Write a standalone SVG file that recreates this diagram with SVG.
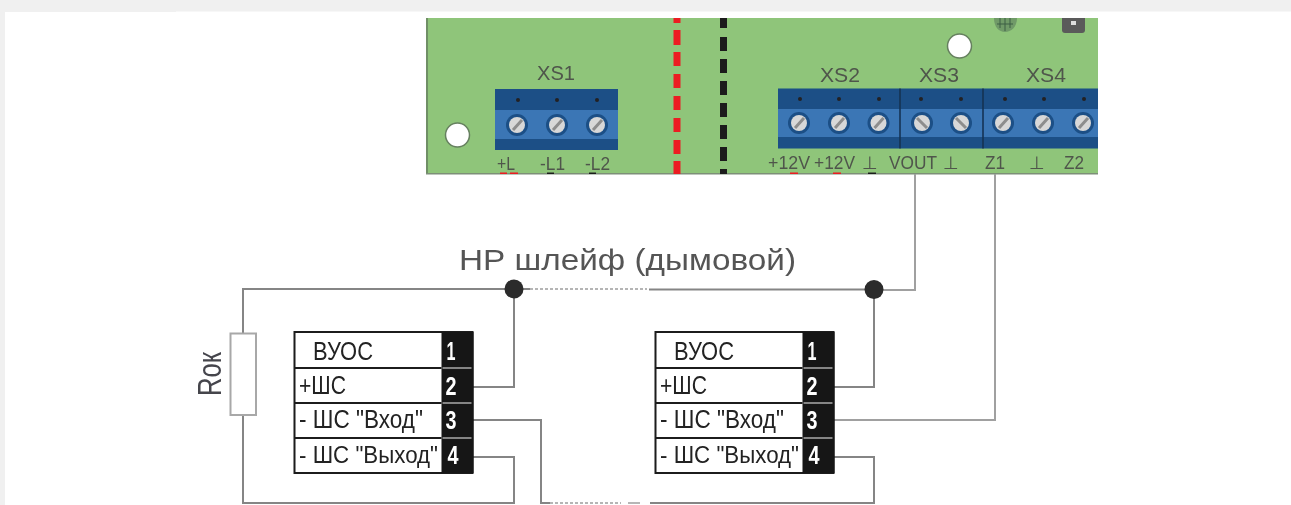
<svg xmlns="http://www.w3.org/2000/svg" xmlns:xlink="http://www.w3.org/1999/xlink" width="1291" height="505" viewBox="0 0 1291 505">
<style>
text{font-family:"Liberation Sans",Arial,sans-serif}
.pin{font-size:18px;fill:#4f554b}
.xs{font-size:21px;fill:#4f554b}
.title{font-size:30px;fill:#555}
.lbl{font-size:25px;fill:#222}
.lbl4{font-size:23px;fill:#222}
.num{font-size:25px;font-weight:bold;fill:#fff;text-anchor:middle}
.w{fill:none;stroke:#858585;stroke-width:2}
.wl{fill:none;stroke:#a0a0a0;stroke-width:2}
.dot{fill:#2b2b2b}
.dash{fill:none;stroke:#b5b5b5;stroke-width:2;stroke-dasharray:3 2}
.box{fill:#fff;stroke:#1a1a1a;stroke-width:2}
.col{fill:#141414}
.row{stroke:#1a1a1a;stroke-width:2}
.sep{stroke:#aaa;stroke-width:1.5}
.dk{fill:#1c4f86}
.lt{fill:#3a76b5}
.red{fill:#ec1c24}
.blk{fill:#1e1e1e}
.hole{fill:#fff;stroke:#66805f;stroke-width:1.5}
</style>
<defs>
<filter id="soft" x="-2%" y="-2%" width="104%" height="104%"><feGaussianBlur stdDeviation="0.75"/></filter>
<filter id="soft2" x="-5%" y="-5%" width="110%" height="110%"><feGaussianBlur stdDeviation="0.35"/></filter>
<g id="screw"><circle r="11" fill="#1c4f86"/><circle r="8" fill="#d8d8d8"/><path d="M-4 5L5-5" stroke="#8d8d8d" stroke-width="3"/></g>
<g id="screwb"><circle r="11" fill="#1c4f86"/><circle r="8" fill="#d8d8d8"/><path d="M-5-5L5 5" stroke="#8d8d8d" stroke-width="3"/></g>
<circle id="pt" r="2" fill="#222"/>
<g id="module">
<rect class="box" x="0" y="0" width="178" height="141"/>
<rect class="col" x="147" y="0" width="32" height="141"/>
<path class="row" d="M0 36H147M0 71H147M0 106H147"/>
<path class="sep" d="M148 36H177M148 71H177M148 106H177"/>
</g>
</defs>

<rect width="1291" height="505" fill="#fff"/>
<path d="M0 0H1291V11.500H176V12H5V505H0Z" fill="#f0f0f0"/>

<g id="board" filter="url(#soft)">
<rect x="426" y="18" width="672" height="156" fill="#8fc57a"/>
<rect x="426" y="18" width="2" height="156" fill="#6f8f66"/>
<rect x="426" y="173" width="672" height="1.500" fill="#7d8f78"/>
<g class="red">
<rect x="673.500" y="18" width="7" height="5"/><rect x="673.500" y="30" width="7" height="15"/><rect x="673.500" y="52" width="7" height="14"/><rect x="673.500" y="74" width="7" height="14"/><rect x="673.500" y="96" width="7" height="14"/><rect x="673.500" y="118" width="7" height="14"/><rect x="673.500" y="140" width="7" height="14"/><rect x="673.500" y="161" width="7" height="13"/>
</g>
<g class="blk">
<rect x="720" y="18" width="7" height="10"/><rect x="720" y="37" width="7" height="14"/><rect x="720" y="59" width="7" height="14"/><rect x="720" y="81" width="7" height="14"/><rect x="720" y="103" width="7" height="14"/><rect x="720" y="125" width="7" height="14"/><rect x="720" y="147" width="7" height="14"/><rect x="720" y="169" width="7" height="5"/>
</g>
<circle class="hole" cx="457.500" cy="135" r="12"/>
<circle class="hole" cx="959.500" cy="46" r="12"/>
<path d="M994 18C994 27 999 32 1005 32C1011 32 1017 27 1017 18Z" fill="#6f9a68"/>
<path d="M997 24H1013M1005 18V31M1000 18V28M1010 18V28" stroke="#3f5f45" stroke-width="1"/>
<path d="M1062 18H1085V30Q1085 33 1082 33H1065Q1062 33 1062 30Z" fill="#5a5a5a"/>
<rect x="1071" y="21" width="5" height="4" fill="#ddd"/>
</g>

<g id="XS1" filter="url(#soft)">
<rect class="dk" x="495" y="89" width="123" height="61"/>
<rect class="lt" x="495" y="110" width="123" height="29"/>
<use xlink:href="#screw" x="517" y="125"/><use xlink:href="#screw" x="557" y="125"/><use xlink:href="#screw" x="597" y="125"/>
<use xlink:href="#pt" x="518" y="100"/><use xlink:href="#pt" x="557" y="100"/><use xlink:href="#pt" x="597" y="100"/>
<text class="xs" x="537" y="80" textLength="38" lengthAdjust="spacingAndGlyphs">XS1</text>
<text class="pin" x="497" y="170" textLength="18" lengthAdjust="spacingAndGlyphs">+L</text><text class="pin" x="540" y="170" textLength="25" lengthAdjust="spacingAndGlyphs">-L1</text><text class="pin" x="585" y="170" textLength="25" lengthAdjust="spacingAndGlyphs">-L2</text>
<rect class="red" x="500" y="172.500" width="7" height="1.500"/><rect class="red" x="510" y="172.500" width="8" height="1.500"/>
<rect class="blk" x="547" y="172.500" width="7" height="1.500"/><rect class="blk" x="589" y="172.500" width="7" height="1.500"/>
</g>

<g id="XS2-XS4" filter="url(#soft)">
<rect class="dk" x="778" y="88.500" width="320" height="60"/>
<rect class="lt" x="778" y="109" width="320" height="28"/>
<path d="M900 88.500V148.500M983 88.500V148.500" stroke="#16304d" stroke-width="1.500"/>
<use xlink:href="#screw" x="799" y="123"/><use xlink:href="#screw" x="839" y="123"/><use xlink:href="#screw" x="878.500" y="123"/>
<use xlink:href="#screwb" x="922" y="123"/><use xlink:href="#screwb" x="961" y="123"/>
<use xlink:href="#screw" x="1003" y="123"/><use xlink:href="#screw" x="1043" y="123"/><use xlink:href="#screw" x="1083" y="123"/>
<use xlink:href="#pt" x="800" y="99"/><use xlink:href="#pt" x="839" y="99"/><use xlink:href="#pt" x="879" y="99"/><use xlink:href="#pt" x="921" y="99"/><use xlink:href="#pt" x="961" y="99"/><use xlink:href="#pt" x="1005" y="99"/><use xlink:href="#pt" x="1044" y="99"/><use xlink:href="#pt" x="1084" y="99"/>
<text class="xs" x="820" y="82" textLength="40" lengthAdjust="spacingAndGlyphs">XS2</text>
<text class="xs" x="919" y="82" textLength="40" lengthAdjust="spacingAndGlyphs">XS3</text>
<text class="xs" x="1026" y="82" textLength="40" lengthAdjust="spacingAndGlyphs">XS4</text>
<text class="pin" x="768" y="169" textLength="42" lengthAdjust="spacingAndGlyphs">+12V</text>
<text class="pin" x="814" y="169" textLength="41" lengthAdjust="spacingAndGlyphs">+12V</text>
<text class="pin" x="862" y="169" style="font-family:'DejaVu Sans',sans-serif">⊥</text>
<text class="pin" x="889" y="169" textLength="48" lengthAdjust="spacingAndGlyphs">VOUT</text>
<text class="pin" x="943" y="169" style="font-family:'DejaVu Sans',sans-serif">⊥</text>
<text class="pin" x="985" y="169" textLength="20" lengthAdjust="spacingAndGlyphs">Z1</text>
<text class="pin" x="1029" y="169" style="font-family:'DejaVu Sans',sans-serif">⊥</text>
<text class="pin" x="1064" y="169" textLength="20" lengthAdjust="spacingAndGlyphs">Z2</text>
<rect class="red" x="790" y="172.500" width="8" height="1.500"/><rect class="red" x="833" y="172.500" width="8" height="1.500"/><rect class="blk" x="868" y="172.500" width="8" height="1.500"/>
</g>

<g id="connectors">
<path class="wl" d="M915 174V290H874"/>
<path class="wl" d="M995 174V420H833"/>
<path class="w" d="M243 333V289H530"/>
<path class="dash" d="M530 289H647"/>
<path class="w" d="M649 289.500H874"/>
<path class="w" d="M514 289V387H473"/>
<path class="w" d="M874 289V387H833"/>
<path class="w" d="M473 420H541V503H550"/>
<path class="dash" d="M550 503H621"/>
<path class="w" d="M628 503H640" stroke-opacity=".6"/>
<path class="w" d="M650 503H874V457H833"/>
<path class="w" d="M473 457H514V503H243V415"/>
</g>

<g id="junction1"><circle class="dot" cx="514" cy="289" r="9.500"/></g>
<g id="junction2"><circle class="dot" cx="874" cy="289.500" r="9.500"/></g>

<g id="title" filter="url(#soft2)"><text class="title" x="459" y="270" textLength="337" lengthAdjust="spacingAndGlyphs">НР шлейф (дымовой)</text></g>

<g id="Rok" filter="url(#soft2)">
<rect x="230.500" y="333.500" width="25.500" height="81.500" fill="#fff" stroke="#a8a8a8" stroke-width="2"/>
<text transform="translate(221,396) rotate(-90)" font-size="33" fill="#44444c" textLength="44" lengthAdjust="spacingAndGlyphs">Rок</text>
</g>

<g id="module1" filter="url(#soft2)">
<use xlink:href="#module" x="294.500" y="332"/>
<text class="lbl" x="313" y="360" textLength="60" lengthAdjust="spacingAndGlyphs">ВУОС</text>
<text class="lbl" x="299" y="394" textLength="47" lengthAdjust="spacingAndGlyphs">+ШС</text>
<text class="lbl" x="299" y="428" textLength="124" lengthAdjust="spacingAndGlyphs">- ШС "Вход"</text>
<text class="lbl4" x="299" y="463" textLength="139" lengthAdjust="spacingAndGlyphs">- ШС "Выход"</text>
<text class="num" x="451" y="360" textLength="9" lengthAdjust="spacingAndGlyphs">1</text>
<text class="num" x="451" y="395" textLength="11" lengthAdjust="spacingAndGlyphs">2</text>
<text class="num" x="451" y="429" textLength="11" lengthAdjust="spacingAndGlyphs">3</text>
<text class="num" x="453" y="464" textLength="11" lengthAdjust="spacingAndGlyphs">4</text>
</g>

<g id="module2" filter="url(#soft2)">
<use xlink:href="#module" x="655.500" y="332"/>
<text class="lbl" x="674" y="360" textLength="60" lengthAdjust="spacingAndGlyphs">ВУОС</text>
<text class="lbl" x="660" y="394" textLength="47" lengthAdjust="spacingAndGlyphs">+ШС</text>
<text class="lbl" x="660" y="428" textLength="124" lengthAdjust="spacingAndGlyphs">- ШС "Вход"</text>
<text class="lbl4" x="660" y="463" textLength="139" lengthAdjust="spacingAndGlyphs">- ШС "Выход"</text>
<text class="num" x="812" y="360" textLength="9" lengthAdjust="spacingAndGlyphs">1</text>
<text class="num" x="812" y="395" textLength="11" lengthAdjust="spacingAndGlyphs">2</text>
<text class="num" x="812" y="429" textLength="11" lengthAdjust="spacingAndGlyphs">3</text>
<text class="num" x="814" y="464" textLength="11" lengthAdjust="spacingAndGlyphs">4</text>
</g>
</svg>
